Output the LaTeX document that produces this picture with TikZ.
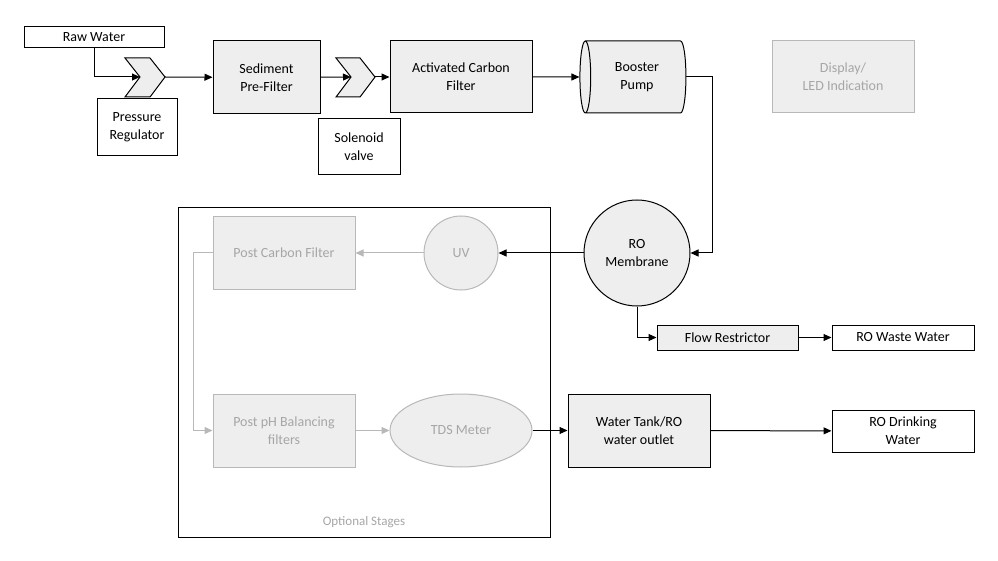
\documentclass[tikz,border=0pt]{standalone}
\usepackage{fontspec}
\setmainfont{Carlito}
\usetikzlibrary{shapes.geometric,arrows.meta}
\definecolor{boxfill}{HTML}{EEEEEE}
\definecolor{faded}{HTML}{A6A6A6}
\begin{document}
\begin{tikzpicture}[x=1pt,y=-1pt, line width=1pt,
    block/.style={draw, fill=boxfill, minimum width=#1, align=center, font=\fontsize{14}{18}\selectfont, inner sep=2pt},
    block/.default=107pt,
    plain/.style={draw, fill=white, align=center, font=\fontsize{14}{18}\selectfont, inner sep=2pt},
    optional/.style={draw=faded!80, fill=boxfill, text=faded, align=center, font=\fontsize{14}{18}\selectfont},
    arrow/.style={-{Triangle[length=8pt,width=7pt]}},
    grayarrow/.style={-{Triangle[length=8pt,width=7pt]}, draw=faded!80}
]
    \useasboundingbox (0,0) rectangle (998,561);

    % Inlet and pre-treatment
    \node[plain, minimum width=140pt, minimum height=21pt] (raw) at (94,37.5) {Raw Water};
    \draw[fill=boxfill] (125,58) -- (150,58) -- (165,77) -- (150,97) -- (125,97) -- (140,77) -- cycle;
    \coordinate (prin) at (140,77);
    \coordinate (prout) at (165,77);
    \node[plain, minimum width=80pt, minimum height=57pt] (preg) at (137,127.5) {Pressure\\Regulator};
    \node[block, minimum height=73pt] (sed) at (266.5,77.5) {Sediment\\Pre-Filter};
    \draw[fill=boxfill] (336,58) -- (360,58) -- (375,77) -- (360,97) -- (336,97) -- (351,77) -- cycle;
    \coordinate (svin) at (351,77);
    \coordinate (svout) at (375,77);
    \node[plain, minimum width=82pt, minimum height=56pt] (sol) at (359,147) {Solenoid\\valve};
    \node[block=142pt, minimum height=72pt] (carbon) at (461,77) {Activated Carbon\\Filter};
    \node[cylinder, draw, fill=boxfill, shape border rotate=180, aspect=0.3,
          minimum width=72pt, minimum height=106pt, align=center,
          font=\fontsize{14}{18}\selectfont] (pump) at (637,77) {Booster\\Pump};
    \node[optional, minimum width=142pt, minimum height=72pt] (display) at (843,77) {Display/\\LED Indication};

    % RO stage
    \node[circle, draw, fill=boxfill, minimum size=106pt, align=center, font=\fontsize{14}{18}\selectfont] (ro) at (637,253) {RO\\Membrane};
    \node[block=141pt, minimum height=25pt] (restrict) at (727.5,337.5) {Flow Restrictor};
    \node[plain, minimum width=142pt, minimum height=25pt] (waste) at (903,337.5) {RO Waste Water};

    % Optional stages
    \draw (178,208) rectangle (550,537);
    \node[text=faded, font=\fontsize{13}{15}\selectfont] (optlbl) at (364,522) {Optional Stages};
    \node[optional, circle, minimum size=74pt] (uv) at (461,253) {UV};
    \node[optional, minimum width=142pt, minimum height=73pt] (post) at (284,253) {Post Carbon Filter};
    \node[optional, minimum width=142pt, minimum height=73pt] (ph) at (284,430.5) {Post pH Balancing\\filters};
    \node[optional, ellipse, minimum width=142pt, minimum height=73pt] (tds) at (461,430.5) {TDS Meter};

    % Outlet
    \node[block=142pt, minimum height=73pt] (tank) at (639,430.5) {Water Tank/RO\\water outlet};
    \node[plain, minimum width=142pt, minimum height=42pt] (drink) at (903,431) {RO Drinking\\Water};

    % Flow
    \draw[arrow] (raw.south) -- (raw.south |- prin) -- (prin);
    \draw[arrow] (prout) -- (sed);
    \draw[arrow] (sed) -- (svin);
    \draw[arrow] (svout) -- (carbon);
    \draw[arrow] (carbon) -- (pump);
    \draw[arrow] (pump.east) -| (712,253) -- (ro.east);
    \draw[arrow] (ro.south) |- (restrict.west);
    \draw[arrow] (restrict) -- (waste);
    \draw[arrow] (ro) -- (uv);
    \draw[grayarrow] (uv) -- (post);
    \draw[grayarrow] (post.west) -| (193,430.5) -- (ph.west);
    \draw[grayarrow] (ph) -- (tds);
    \draw[arrow] (tds) -- (tank);
    \draw[arrow] (tank) -- (drink);
\end{tikzpicture}
\end{document}
